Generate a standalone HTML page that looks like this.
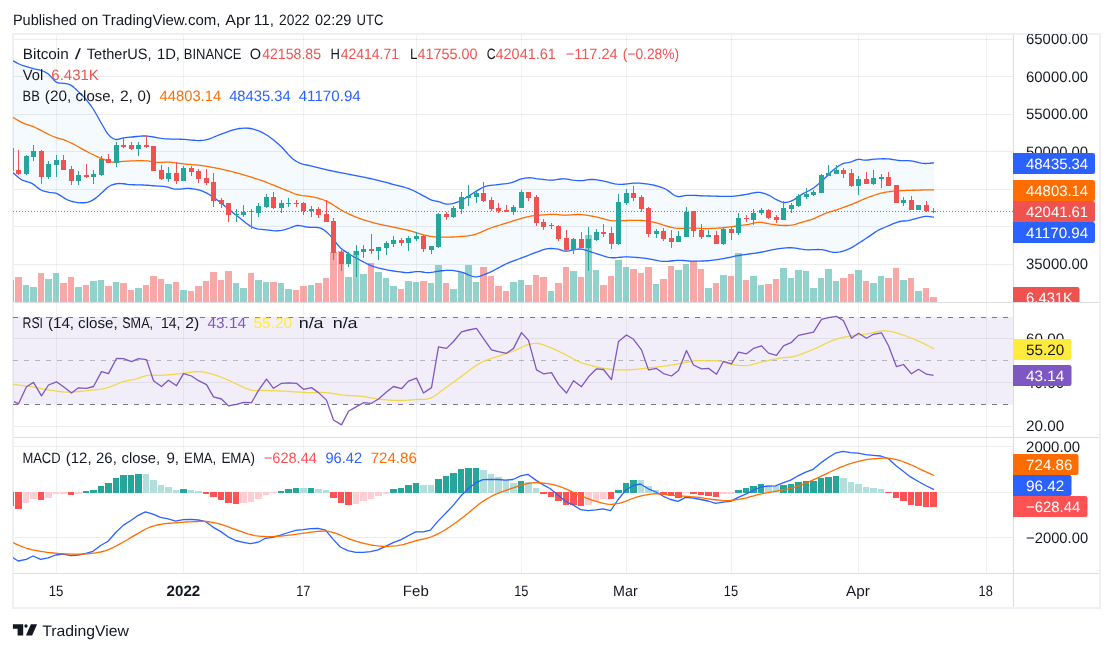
<!DOCTYPE html>
<html><head><meta charset="utf-8"><title>BTCUSDT chart</title>
<style>html,body{margin:0;padding:0;background:#fff}svg{display:block}</style></head>
<body>
<svg width="1113" height="652" viewBox="0 0 1113 652" font-family="Liberation Sans, sans-serif" style="text-rendering:geometricPrecision">
<rect width="1113" height="652" fill="#fff"/>
<rect x="13" y="34" width="1087" height="574" fill="none" stroke="#eef0f5" stroke-width="2"/>
<defs>
<clipPath id="c1"><rect x="13" y="34" width="1000" height="268"/></clipPath>
<clipPath id="c2"><rect x="13" y="303" width="1000" height="134"/></clipPath>
<clipPath id="c3"><rect x="13" y="438" width="1000" height="135"/></clipPath>
<clipPath id="a1"><rect x="1013" y="34" width="86" height="268"/></clipPath>
</defs>
<path d="M56.5,35V573.5M183.5,35V573.5M303.5,35V573.5M416.5,35V573.5M521.5,35V573.5M626.5,35V573.5M731.5,35V573.5M858.5,35V573.5M986.5,35V573.5" stroke="#2a2e39" stroke-opacity="0.065" stroke-width="1" fill="none"/>
<path d="M14,39.5H1013.5M14,76.5H1013.5M14,114.5H1013.5M14,151.5H1013.5M14,189.5H1013.5M14,226.5H1013.5M14,264.5H1013.5M14,338.5H1013.5M14,382.5H1013.5M14,426.5H1013.5M14,446.5H1013.5M14,492.5H1013.5M14,537.5H1013.5" stroke="#2a2e39" stroke-opacity="0.085" stroke-width="1" fill="none"/>
<g clip-path="url(#c1)">
<polygon points="12,60.6 13.5,61.2 16.25,62.59 19,64 21.53,65.02 24.07,65.89 26.6,66.7 29.13,67.46 31.67,68.15 34.2,68.8 36.63,69.31 39.07,69.78 41.5,70.5 43.9,71.48 46.3,72.69 48.7,74.3 51.23,76.89 53.77,79.92 56.3,82.2 58.83,83.04 61.37,83.12 63.9,83.3 66.2,83.7 68.5,84.18 70.8,85.1 73.33,86.87 75.87,89.17 78.4,91.6 80.9,93.95 83.4,96.43 85.9,99.2 88.43,102.33 90.97,105.75 93.5,109.5 96.03,113.71 98.57,118.24 101.1,122.7 103.4,126.77 105.7,130.78 108,134.1 110.53,136.71 113.07,138.5 115.6,139.5 118.13,139.45 120.67,138.63 123.2,137.9 125.47,137.61 127.73,137.4 130,137.2 132.14,136.98 134.29,136.74 136.43,136.5 138.57,136.28 140.71,136.11 142.86,136.01 145,136 147.11,136.1 149.22,136.32 151.33,136.63 153.44,136.99 155.56,137.39 157.67,137.78 159.78,138.15 161.89,138.47 164,138.7 166.09,138.86 168.18,138.97 170.27,139.05 172.36,139.1 174.44,139.14 176.53,139.17 178.62,139.2 180.71,139.24 182.8,139.3 184.96,139.42 187.12,139.6 189.28,139.82 191.44,140.05 193.6,140.26 195.76,140.43 197.92,140.53 200.08,140.52 202.24,140.39 204.4,140.1 206.5,139.64 208.6,139.03 210.7,138.3 212.8,137.49 214.9,136.62 217,135.73 219.1,134.86 221.2,134.04 223.3,133.3 225.33,132.62 227.35,131.9 229.38,131.18 231.4,130.48 233.43,129.84 235.45,129.27 237.47,128.82 239.5,128.5 241.66,128.28 243.82,128.15 245.98,128.13 248.14,128.24 250.3,128.5 252.55,128.93 254.8,129.52 257.05,130.26 259.3,131.14 261.55,132.16 263.8,133.3 265.82,134.46 267.85,135.75 269.88,137.16 271.9,138.68 273.93,140.29 275.95,141.97 277.98,143.71 280,145.5 282.06,147.48 284.11,149.69 286.17,152.01 288.23,154.33 290.29,156.53 292.34,158.49 294.4,160.1 297.1,161.75 299.8,163.1 301.8,163.87 303.8,164.42 305.8,164.85 307.8,165.25 309.8,165.7 311.82,166.21 313.84,166.71 315.86,167.21 317.88,167.7 319.9,168.19 321.92,168.66 323.94,169.14 325.96,169.6 327.98,170.05 330,170.5 332,170.93 334,171.35 336,171.76 338,172.15 340,172.55 342,172.94 344,173.32 346,173.71 348,174.1 350,174.5 352,174.9 354,175.28 356,175.67 358,176.05 360,176.44 362,176.83 364,177.23 366,177.64 368,178.06 370,178.5 372,178.96 374,179.42 376,179.9 378,180.39 380,180.89 382,181.39 384,181.91 386,182.43 388,182.96 390,183.5 392.01,184.03 394.02,184.53 396.03,185.03 398.04,185.52 400.05,186.03 402.05,186.56 404.06,187.13 406.07,187.75 408.08,188.42 410.09,189.17 412.1,190 414.25,191 416.4,192.08 418.55,193.23 420.7,194.4 422.85,195.57 425,196.7 427.23,197.91 429.47,199.12 431.7,200.1 433.83,200.68 435.97,201.06 438.1,201.5 440.12,202.17 442.15,202.97 444.18,203.68 446.2,204.1 448.23,204.16 450.25,203.96 452.27,203.59 454.3,203.1 456.46,202.43 458.62,201.57 460.78,200.57 462.94,199.47 465.1,198.3 467.45,196.9 469.8,195.37 472.15,193.79 474.5,192.3 476.88,190.83 479.25,189.36 481.62,188.01 484,186.9 486.25,186.15 488.5,185.66 490.75,185.34 493,185.11 495.25,184.89 497.5,184.6 499.61,184.31 501.73,184.08 503.84,183.88 505.96,183.66 508.07,183.36 510.19,182.96 512.3,182.4 514.32,181.66 516.35,180.78 518.38,179.92 520.4,179.2 522.67,178.59 524.93,178.11 527.2,177.8 529.36,177.75 531.52,177.91 533.68,178.21 535.84,178.53 538,178.8 540.25,179.04 542.5,179.33 544.75,179.61 547,179.86 549.25,180.03 551.5,180.1 553.75,179.98 556,179.7 558.25,179.34 560.5,179 562.75,178.79 565,178.8 567,179.03 569,179.38 571,179.77 573,180.1 575.55,180.44 578.1,180.7 580.23,180.72 582.36,180.56 584.49,180.28 586.61,179.97 588.74,179.68 590.87,179.5 593,179.5 595.14,179.68 597.28,179.96 599.42,180.31 601.56,180.7 603.7,181.1 605.95,181.58 608.2,182.16 610.45,182.77 612.7,183.35 614.95,183.85 617.2,184.2 619.23,184.35 621.26,184.36 623.29,184.25 625.32,184.06 627.35,183.82 629.38,183.57 631.41,183.34 633.44,183.16 635.47,183.07 637.5,183.1 639.69,183.22 641.88,183.39 644.06,183.59 646.25,183.85 648.44,184.17 650.62,184.54 652.81,184.98 655,185.5 657.38,186.11 659.75,186.79 662.12,187.57 664.5,188.5 666.75,189.75 669,191.37 671.25,193.11 673.5,194.73 675.75,195.98 678,196.6 680.23,196.49 682.47,196.02 684.7,195.6 686.73,195.43 688.76,195.33 690.79,195.31 692.82,195.35 694.85,195.42 696.88,195.52 698.91,195.63 700.94,195.74 702.97,195.84 705,195.9 707.11,195.95 709.23,196.01 711.34,196.08 713.46,196.14 715.57,196.2 717.69,196.26 719.8,196.3 721.88,196.35 723.96,196.4 726.04,196.45 728.12,196.45 730.2,196.4 732.23,196.28 734.25,196.09 736.27,195.86 738.3,195.59 740.33,195.3 742.35,194.99 744.38,194.69 746.4,194.4 748.65,194 750.9,193.48 753.15,192.95 755.4,192.52 757.65,192.3 759.9,192.4 761.92,192.76 763.95,193.3 765.98,193.99 768,194.8 770.38,196.01 772.75,197.48 775.12,198.96 777.5,200.2 779.73,201.19 781.97,202.04 784.2,202.5 786.47,202.42 788.73,201.94 791,201.2 793.16,200.2 795.32,198.86 797.48,197.34 799.64,195.8 801.8,194.4 803.82,193.28 805.83,192.25 807.85,191.25 809.87,190.21 811.88,189.05 813.9,187.7 816.06,186.02 818.22,184.18 820.38,182.22 822.54,180.2 824.7,178.2 827.08,175.92 829.45,173.54 831.83,171.24 834.2,169.2 836.55,167.42 838.9,165.81 841.25,164.44 843.6,163.4 845.73,162.87 847.87,162.58 850,162.2 852.02,161.51 854.05,160.64 856.08,159.85 858.1,159.4 860.33,159.47 862.57,159.85 864.8,160.1 867.17,160.02 869.55,159.76 871.92,159.44 874.3,159.2 876.32,159.06 878.33,158.94 880.35,158.83 882.37,158.77 884.38,158.75 886.4,158.8 888.65,158.97 890.9,159.25 893.15,159.6 895.4,159.96 897.65,160.28 899.9,160.5 902.06,160.6 904.22,160.62 906.38,160.62 908.54,160.67 910.7,160.8 912.83,161.09 914.96,161.53 917.09,162.04 919.21,162.56 921.34,163.02 923.47,163.36 925.6,163.5 927.7,163.44 929.8,163.25 931.9,163.01 934,162.8 934,217.2 931.9,216.94 929.8,216.63 927.7,216.41 925.6,216.4 923.58,216.67 921.55,217.13 919.52,217.67 917.5,218.2 915.12,218.81 912.75,219.47 910.38,220.09 908,220.6 905.98,220.86 903.95,221.01 901.92,221.18 899.9,221.5 897.72,222.07 895.53,222.8 893.35,223.65 891.17,224.59 888.98,225.55 886.8,226.5 884.35,227.52 881.9,228.54 879.45,229.67 877,231 874.87,232.39 872.73,233.9 870.6,235.4 868.44,236.86 866.28,238.3 864.12,239.73 861.96,241.13 859.8,242.5 857.64,243.88 855.48,245.26 853.32,246.6 851.16,247.84 849,248.9 846.75,249.84 844.5,250.67 842.25,251.35 840,251.88 837.75,252.23 835.5,252.4 833.25,252.28 831,251.87 828.75,251.28 826.5,250.65 824.25,250.08 822,249.7 819.98,249.55 817.95,249.51 815.92,249.54 813.9,249.62 811.88,249.71 809.85,249.78 807.82,249.79 805.8,249.7 803.69,249.48 801.57,249.16 799.46,248.79 797.34,248.41 795.23,248.07 793.11,247.81 791,247.7 788.62,247.73 786.25,247.86 783.88,248.06 781.5,248.3 779.34,248.56 777.18,248.89 775.02,249.28 772.86,249.71 770.7,250.17 768.54,250.64 766.38,251.12 764.22,251.58 762.06,252.01 759.9,252.4 757.74,252.75 755.58,253.08 753.42,253.39 751.26,253.69 749.1,253.99 746.94,254.28 744.78,254.59 742.62,254.9 740.46,255.24 738.3,255.6 736.2,255.98 734.1,256.4 732,256.84 729.9,257.29 727.8,257.74 725.7,258.17 723.6,258.59 721.5,258.97 719.4,259.3 717.38,259.59 715.35,259.86 713.33,260.12 711.3,260.35 709.27,260.56 707.25,260.73 705.23,260.88 703.2,261 700.86,261.09 698.52,261.15 696.18,261.16 693.84,261.15 691.5,261.1 689.4,261 687.3,260.84 685.2,260.66 683.1,260.48 681,260.35 678.9,260.3 676.84,260.37 674.79,260.54 672.73,260.77 670.67,261.02 668.61,261.24 666.56,261.38 664.5,261.4 662.4,261.28 660.3,261.04 658.2,260.72 656.1,260.33 654,259.91 651.9,259.48 649.8,259.06 647.7,258.7 645.6,258.4 643.5,258.15 641.4,257.92 639.3,257.7 637.2,257.49 635.1,257.31 633,257.16 630.9,257.04 628.8,256.95 626.7,256.9 624.68,256.94 622.65,257.07 620.62,257.26 618.6,257.47 616.58,257.65 614.55,257.75 612.52,257.75 610.5,257.6 608.48,257.28 606.45,256.82 604.42,256.25 602.4,255.61 600.38,254.94 598.35,254.26 596.32,253.6 594.3,253 592.17,252.34 590.04,251.59 587.91,250.82 585.79,250.11 583.66,249.51 581.53,249.12 579.4,249 577.27,249.18 575.13,249.53 573,249.9 571,250.3 569,250.78 567,251.15 565,251.2 562.73,250.7 560.47,249.87 558.2,249.2 555.85,248.81 553.5,248.57 551.15,248.49 548.8,248.6 546.55,248.93 544.3,249.49 542.05,250.21 539.8,251.03 537.55,251.88 535.3,252.7 533.27,253.43 531.23,254.2 529.2,255 527.17,255.81 525.13,256.61 523.1,257.4 520.93,258.21 518.76,259 516.59,259.77 514.41,260.56 512.24,261.36 510.07,262.2 507.9,263.1 505.83,264.03 503.76,265.05 501.69,266.14 499.62,267.25 497.55,268.39 495.48,269.51 493.41,270.59 491.34,271.62 489.27,272.56 487.2,273.4 484.92,274.31 482.64,275.23 480.36,276.06 478.08,276.66 475.8,276.9 473.57,276.66 471.33,276 469.1,275.09 466.87,274.07 464.63,273.12 462.4,272.4 460.33,271.9 458.27,271.43 456.2,271.02 454.13,270.69 452.07,270.44 450,270.3 447.96,270.29 445.92,270.38 443.88,270.56 441.84,270.77 439.8,271 437.64,271.31 435.48,271.7 433.32,272.1 431.16,272.43 429,272.6 426.84,272.53 424.68,272.29 422.52,271.98 420.36,271.71 418.2,271.6 416.04,271.71 413.88,271.97 411.72,272.27 409.56,272.52 407.4,272.6 405.05,272.48 402.7,272.24 400.35,271.92 398,271.6 395.75,271.3 393.5,270.99 391.25,270.66 389,270.29 386.75,269.87 384.5,269.4 382.25,268.9 380,268.37 377.75,267.8 375.5,267.17 373.25,266.44 371,265.6 368.84,264.67 366.68,263.62 364.52,262.51 362.36,261.36 360.2,260.2 358.04,259.05 355.88,257.89 353.72,256.7 351.56,255.44 349.4,254.1 347.05,252.63 344.7,251.12 342.35,249.43 340,247.4 337.62,244.78 335.25,241.73 332.88,238.64 330.5,235.9 328.23,233.63 325.97,231.55 323.7,229.8 321.68,228.66 319.65,227.93 317.62,227.52 315.6,227.34 313.57,227.3 311.55,227.31 309.52,227.27 307.5,227.1 305.48,226.75 303.47,226.3 301.45,225.87 299.43,225.57 297.42,225.51 295.4,225.8 292.7,226.83 290,228 287.92,228.7 285.84,229.33 283.76,229.86 281.68,230.29 279.6,230.6 277.35,230.77 275.1,230.78 272.85,230.66 270.6,230.44 268.35,230.18 266.1,229.9 263.85,229.66 261.6,229.44 259.35,229.17 257.1,228.77 254.85,228.17 252.6,227.3 250.35,226.09 248.1,224.6 245.85,222.91 243.6,221.11 241.35,219.27 239.1,217.5 236.85,215.75 234.6,213.96 232.35,212.14 230.1,210.31 227.85,208.49 225.6,206.7 223.57,205.07 221.53,203.41 219.5,201.76 217.47,200.15 215.43,198.62 213.4,197.2 211.05,195.67 208.7,194.24 206.35,192.93 204,191.8 201.75,190.9 199.5,190.18 197.25,189.59 195,189.13 192.75,188.78 190.5,188.5 188.37,188.39 186.24,188.47 184.11,188.67 181.99,188.91 179.86,189.11 177.73,189.2 175.6,189.1 173.58,188.78 171.57,188.3 169.55,187.73 167.53,187.17 165.52,186.7 163.5,186.4 159.8,186.2 157.69,186.06 155.57,185.9 153.46,185.73 151.34,185.55 149.23,185.38 147.11,185.23 145,185.1 142.75,185 140.5,184.93 138.25,184.87 136,184.82 133.75,184.77 131.5,184.7 129.47,184.56 127.45,184.31 125.42,184.01 123.4,183.74 121.38,183.54 119.35,183.47 117.33,183.61 115.3,184 113.03,184.64 110.77,185.47 108.5,186.7 106.27,188.5 104.03,190.69 101.8,192.8 99.42,194.9 97.05,196.98 94.67,198.87 92.3,200.4 90.19,201.39 88.07,202.07 85.96,202.51 83.84,202.73 81.73,202.77 79.61,202.68 77.5,202.5 75.34,202.2 73.18,201.75 71.02,201.14 68.86,200.39 66.7,199.5 64.66,198.4 62.62,197.03 60.58,195.61 58.54,194.33 56.5,193.4 54.03,192.86 51.57,192.63 49.1,192.3 47.08,191.89 45.05,191.44 43.02,190.85 41,190 38.83,188.62 36.65,186.88 34.47,185.1 32.3,183.6 30,182.54 27.7,181.84 25.4,181.25 23.1,180.49 20.8,179.3 18.77,177.82 16.75,176.09 14.72,174.27 12.7,172.5" fill="#2196f3" fill-opacity="0.05"/>
<path d="M23,302H29V285H23ZM30,302H37V287H30ZM45,302H52V279H45ZM53,302H59V273H53ZM75,302H82V287H75ZM90,302H97V281H90ZM98,302H104V280H98ZM113,302H119V282H113ZM135,302H142V288H135ZM165,302H172V284H165ZM180,302H187V290H180ZM233,302H239V283H233ZM240,302H247V288H240ZM255,302H262V280H255ZM263,302H269V282H263ZM278,302H284V283H278ZM285,302H292V289H285ZM308,302H314V285H308ZM345,302H352V277H345ZM353,302H359V251H353ZM360,302H367V274H360ZM375,302H382V272H375ZM383,302H389V278H383ZM390,302H397V286H390ZM405,302H412V281H405ZM413,302H419V282H413ZM428,302H434V283H428ZM435,302H442V265H435ZM450,302H457V289H450ZM458,302H464V272H458ZM465,302H472V265H465ZM473,302H479V282H473ZM510,302H517V282H510ZM518,302H524V280H518ZM548,302H554V291H548ZM570,302H577V271H570ZM585,302H592V235H585ZM593,302H599V270H593ZM615,302H622V260H615ZM623,302H629V267H623ZM653,302H659V284H653ZM675,302H682V270H675ZM683,302H689V264H683ZM705,302H712V288H705ZM720,302H727V275H720ZM735,302H742V253H735ZM750,302H757V276H750ZM758,302H764V285H758ZM780,302H787V268H780ZM788,302H794V278H788ZM795,302H802V270H795ZM803,302H809V271H803ZM810,302H817V288H810ZM818,302H824V278H818ZM825,302H832V269H825ZM833,302H839V281H833ZM855,302H862V270H855ZM870,302H877V283H870ZM878,302H884V276H878ZM900,302H907V280H900ZM915,302H922V291H915Z" fill="#26a69a" fill-opacity="0.5"/>
<path d="M8,302H14V280H8ZM15,302H22V277H15ZM38,302H44V273H38ZM60,302H67V283H60ZM68,302H74V277H68ZM83,302H89V285H83ZM105,302H112V286H105ZM120,302H127V283H120ZM128,302H134V290H128ZM143,302H149V285H143ZM150,302H157V276H150ZM158,302H164V279H158ZM173,302H179V282H173ZM188,302H194V291H188ZM195,302H202V286H195ZM203,302H209V281H203ZM210,302H217V272H210ZM218,302H224V280H218ZM225,302H232V271H225ZM248,302H254V273H248ZM270,302H277V282H270ZM293,302H299V290H293ZM300,302H307V286H300ZM315,302H322V283H315ZM323,302H329V278H323ZM330,302H337V252H330ZM338,302H344V251H338ZM368,302H374V263H368ZM398,302H404V289H398ZM420,302H427V281H420ZM443,302H449V283H443ZM480,302H487V267H480ZM488,302H494V276H488ZM495,302H502V286H495ZM503,302H509V291H503ZM525,302H532V285H525ZM533,302H539V275H533ZM540,302H547V277H540ZM555,302H562V283H555ZM563,302H569V267H563ZM578,302H584V277H578ZM600,302H607V285H600ZM608,302H614V276H608ZM630,302H637V269H630ZM638,302H644V273H638ZM645,302H652V267H645ZM660,302H667V279H660ZM668,302H674V266H668ZM690,302H697V261H690ZM698,302H704V269H698ZM713,302H719V283H713ZM728,302H734V276H728ZM743,302H749V280H743ZM765,302H772V284H765ZM773,302H779V279H773ZM840,302H847V278H840ZM848,302H854V274H848ZM863,302H869V281H863ZM885,302H892V278H885ZM893,302H899V268H893ZM908,302H914V278H908ZM923,302H929V288H923ZM930,302H937V297H930Z" fill="#ef5350" fill-opacity="0.5"/>
<polyline points="12,117 13.5,117.8 15.56,118.95 17.62,120.15 19.68,121.33 21.74,122.44 23.8,123.4 25.88,124.16 27.95,124.78 30.03,125.38 32.1,126.1 34.17,126.99 36.23,127.99 38.3,129.07 40.37,130.18 42.43,131.27 44.5,132.3 46.72,133.38 48.94,134.46 51.16,135.52 53.38,136.51 55.6,137.4 58,138.19 60.4,138.84 62.8,139.49 65.2,140.3 67.45,141.23 69.7,142.26 71.95,143.36 74.2,144.5 76.48,145.72 78.76,147.01 81.04,148.34 83.32,149.65 85.6,150.9 87.62,151.96 89.65,153.01 91.67,154.04 93.7,155.04 95.72,156 97.75,156.92 99.77,157.79 101.8,158.6 103.96,159.45 106.12,160.28 108.28,161.05 110.44,161.68 112.6,162.1 114.62,162.25 116.63,162.19 118.65,161.99 120.67,161.72 122.68,161.47 124.7,161.3 126.73,161.19 128.76,161.08 130.79,160.97 132.82,160.87 134.85,160.79 136.88,160.72 138.91,160.69 140.94,160.68 142.97,160.72 145,160.8 147.11,160.97 149.23,161.22 151.34,161.52 153.46,161.83 155.57,162.1 157.69,162.31 159.8,162.4 162.37,162.33 164.93,162.17 167.5,162.1 169.53,162.17 171.55,162.32 173.57,162.54 175.6,162.81 177.62,163.09 179.65,163.39 181.67,163.66 183.7,163.9 185.73,164.1 187.76,164.29 189.79,164.46 191.82,164.63 193.85,164.8 195.88,164.97 197.91,165.17 199.94,165.38 201.97,165.62 204,165.9 206.03,166.21 208.05,166.54 210.07,166.89 212.1,167.27 214.12,167.65 216.15,168.06 218.17,168.47 220.2,168.9 222.36,169.37 224.52,169.85 226.68,170.35 228.84,170.87 231,171.4 233.16,171.95 235.32,172.52 237.48,173.1 239.64,173.69 241.8,174.3 243.88,174.9 245.96,175.52 248.05,176.14 250.13,176.79 252.21,177.44 254.29,178.11 256.37,178.8 258.45,179.5 260.54,180.22 262.62,180.95 264.7,181.7 266.73,182.45 268.76,183.24 270.79,184.05 272.82,184.87 274.85,185.71 276.88,186.55 278.91,187.38 280.94,188.21 282.97,189.02 285,189.8 287.11,190.64 289.23,191.51 291.34,192.4 293.46,193.25 295.57,194.02 297.69,194.69 299.8,195.2 302.37,195.57 304.93,195.8 307.5,196.1 309.6,196.45 311.7,196.82 313.8,197.23 315.9,197.69 318,198.21 320.1,198.81 322.2,199.48 324.3,200.24 326.4,201.1 328.6,202.16 330.8,203.4 333,204.75 335.2,206.18 337.4,207.63 339.6,209.05 341.8,210.39 344,211.6 346.25,212.73 348.5,213.82 350.75,214.86 353,215.85 355.25,216.8 357.5,217.7 359.52,218.46 361.55,219.18 363.57,219.85 365.6,220.49 367.62,221.09 369.65,221.68 371.68,222.24 373.7,222.8 375.86,223.37 378.02,223.89 380.18,224.38 382.34,224.84 384.5,225.28 386.66,225.72 388.82,226.15 390.98,226.58 393.14,227.03 395.3,227.5 397.32,227.95 399.35,228.39 401.38,228.82 403.4,229.27 405.43,229.72 407.45,230.19 409.48,230.68 411.5,231.2 413.75,231.84 416,232.55 418.25,233.28 420.5,233.99 422.75,234.64 425,235.2 427,235.62 429,236 431,236.33 433,236.6 435.2,236.83 437.4,236.97 439.6,237.05 441.8,237.09 444,237.1 446.2,237.1 448.31,237.09 450.43,237.07 452.54,237.02 454.66,236.94 456.77,236.83 458.89,236.68 461,236.5 463.25,236.28 465.5,236.05 467.75,235.78 470,235.45 472.25,235.03 474.5,234.5 476.52,233.89 478.55,233.16 480.57,232.33 482.6,231.44 484.62,230.53 486.65,229.63 488.68,228.77 490.7,228 492.83,227.26 494.96,226.57 497.09,225.9 499.21,225.25 501.34,224.61 503.47,223.96 505.6,223.3 507.62,222.66 509.63,222.01 511.65,221.36 513.67,220.72 515.68,220.1 517.7,219.5 519.86,218.87 522.02,218.24 524.18,217.64 526.34,217.09 528.5,216.6 530.52,216.22 532.55,215.91 534.58,215.66 536.6,215.46 538.62,215.28 540.65,215.12 542.68,214.96 544.7,214.8 546.97,214.6 549.23,214.41 551.5,214.3 553.75,214.32 556,214.47 558.25,214.69 560.5,214.92 562.75,215.11 565,215.2 567.06,215.17 569.11,215.05 571.17,214.89 573.23,214.71 575.29,214.56 577.34,214.48 579.4,214.5 581.6,214.63 583.8,214.84 586,215.12 588.2,215.46 590.4,215.83 592.6,216.24 594.8,216.67 597,217.1 599.11,217.57 601.23,218.12 603.34,218.7 605.46,219.29 607.57,219.83 609.69,220.28 611.8,220.6 613.93,220.78 616.06,220.83 618.19,220.81 620.31,220.73 622.44,220.63 624.57,220.54 626.7,220.5 628.81,220.47 630.93,220.42 633.04,220.37 635.16,220.33 637.27,220.32 639.39,220.37 641.5,220.5 643.63,220.7 645.76,220.95 647.89,221.24 650.01,221.59 652.14,221.98 654.27,222.42 656.4,222.9 658.65,223.51 660.9,224.22 663.15,224.99 665.4,225.74 667.65,226.44 669.9,227 671.92,227.41 673.95,227.77 675.98,228.07 678,228.3 680.25,228.42 682.5,228.4 684.75,228.29 687,228.15 689.25,228.03 691.5,228 693.75,228.06 696,228.17 698.25,228.31 700.5,228.45 702.75,228.55 705,228.6 707.11,228.59 709.23,228.56 711.34,228.5 713.46,228.42 715.57,228.3 717.69,228.17 719.8,228 721.88,227.8 723.96,227.57 726.04,227.32 728.12,227.06 730.2,226.8 732.4,226.54 734.6,226.27 736.8,226.01 739,225.74 741.2,225.46 743.4,225.16 745.6,224.84 747.8,224.5 749.82,224.11 751.83,223.64 753.85,223.15 755.87,222.72 757.88,222.41 759.9,222.3 762.06,222.44 764.22,222.79 766.38,223.25 768.54,223.72 770.7,224.1 772.95,224.42 775.2,224.73 777.45,225.02 779.7,225.26 781.95,225.43 784.2,225.5 786.47,225.49 788.73,225.41 791,225.2 793.16,224.82 795.32,224.27 797.48,223.62 799.64,222.95 801.8,222.3 803.96,221.7 806.12,221.11 808.28,220.5 810.44,219.84 812.6,219.1 814.62,218.3 816.63,217.39 818.65,216.43 820.67,215.47 822.68,214.54 824.7,213.7 826.95,212.87 829.2,212.13 831.45,211.43 833.7,210.75 835.95,210.05 838.2,209.3 840.45,208.51 842.7,207.71 844.95,206.89 847.2,206.05 849.45,205.18 851.7,204.3 854.06,203.33 856.42,202.31 858.78,201.29 861.14,200.27 863.5,199.3 865.75,198.4 868,197.5 870.25,196.62 872.5,195.78 874.75,195 877,194.3 879.16,193.69 881.32,193.13 883.48,192.63 885.64,192.18 887.8,191.8 889.82,191.52 891.83,191.31 893.85,191.15 895.87,191.03 897.88,190.92 899.9,190.8 902.1,190.67 904.3,190.55 906.5,190.45 908.7,190.37 910.9,190.29 913.1,190.23 915.3,190.16 917.5,190.1 919.56,190.05 921.62,190 923.69,189.96 925.75,189.93 927.81,189.9 929.88,189.87 931.94,189.84 934,189.8" fill="none" stroke="#ff6d00" stroke-width="1.3" stroke-linejoin="round"/>
<polyline points="12,60.6 13.5,61.2 16.25,62.59 19,64 21.53,65.02 24.07,65.89 26.6,66.7 29.13,67.46 31.67,68.15 34.2,68.8 36.63,69.31 39.07,69.78 41.5,70.5 43.9,71.48 46.3,72.69 48.7,74.3 51.23,76.89 53.77,79.92 56.3,82.2 58.83,83.04 61.37,83.12 63.9,83.3 66.2,83.7 68.5,84.18 70.8,85.1 73.33,86.87 75.87,89.17 78.4,91.6 80.9,93.95 83.4,96.43 85.9,99.2 88.43,102.33 90.97,105.75 93.5,109.5 96.03,113.71 98.57,118.24 101.1,122.7 103.4,126.77 105.7,130.78 108,134.1 110.53,136.71 113.07,138.5 115.6,139.5 118.13,139.45 120.67,138.63 123.2,137.9 125.47,137.61 127.73,137.4 130,137.2 132.14,136.98 134.29,136.74 136.43,136.5 138.57,136.28 140.71,136.11 142.86,136.01 145,136 147.11,136.1 149.22,136.32 151.33,136.63 153.44,136.99 155.56,137.39 157.67,137.78 159.78,138.15 161.89,138.47 164,138.7 166.09,138.86 168.18,138.97 170.27,139.05 172.36,139.1 174.44,139.14 176.53,139.17 178.62,139.2 180.71,139.24 182.8,139.3 184.96,139.42 187.12,139.6 189.28,139.82 191.44,140.05 193.6,140.26 195.76,140.43 197.92,140.53 200.08,140.52 202.24,140.39 204.4,140.1 206.5,139.64 208.6,139.03 210.7,138.3 212.8,137.49 214.9,136.62 217,135.73 219.1,134.86 221.2,134.04 223.3,133.3 225.33,132.62 227.35,131.9 229.38,131.18 231.4,130.48 233.43,129.84 235.45,129.27 237.47,128.82 239.5,128.5 241.66,128.28 243.82,128.15 245.98,128.13 248.14,128.24 250.3,128.5 252.55,128.93 254.8,129.52 257.05,130.26 259.3,131.14 261.55,132.16 263.8,133.3 265.82,134.46 267.85,135.75 269.88,137.16 271.9,138.68 273.93,140.29 275.95,141.97 277.98,143.71 280,145.5 282.06,147.48 284.11,149.69 286.17,152.01 288.23,154.33 290.29,156.53 292.34,158.49 294.4,160.1 297.1,161.75 299.8,163.1 301.8,163.87 303.8,164.42 305.8,164.85 307.8,165.25 309.8,165.7 311.82,166.21 313.84,166.71 315.86,167.21 317.88,167.7 319.9,168.19 321.92,168.66 323.94,169.14 325.96,169.6 327.98,170.05 330,170.5 332,170.93 334,171.35 336,171.76 338,172.15 340,172.55 342,172.94 344,173.32 346,173.71 348,174.1 350,174.5 352,174.9 354,175.28 356,175.67 358,176.05 360,176.44 362,176.83 364,177.23 366,177.64 368,178.06 370,178.5 372,178.96 374,179.42 376,179.9 378,180.39 380,180.89 382,181.39 384,181.91 386,182.43 388,182.96 390,183.5 392.01,184.03 394.02,184.53 396.03,185.03 398.04,185.52 400.05,186.03 402.05,186.56 404.06,187.13 406.07,187.75 408.08,188.42 410.09,189.17 412.1,190 414.25,191 416.4,192.08 418.55,193.23 420.7,194.4 422.85,195.57 425,196.7 427.23,197.91 429.47,199.12 431.7,200.1 433.83,200.68 435.97,201.06 438.1,201.5 440.12,202.17 442.15,202.97 444.18,203.68 446.2,204.1 448.23,204.16 450.25,203.96 452.27,203.59 454.3,203.1 456.46,202.43 458.62,201.57 460.78,200.57 462.94,199.47 465.1,198.3 467.45,196.9 469.8,195.37 472.15,193.79 474.5,192.3 476.88,190.83 479.25,189.36 481.62,188.01 484,186.9 486.25,186.15 488.5,185.66 490.75,185.34 493,185.11 495.25,184.89 497.5,184.6 499.61,184.31 501.73,184.08 503.84,183.88 505.96,183.66 508.07,183.36 510.19,182.96 512.3,182.4 514.32,181.66 516.35,180.78 518.38,179.92 520.4,179.2 522.67,178.59 524.93,178.11 527.2,177.8 529.36,177.75 531.52,177.91 533.68,178.21 535.84,178.53 538,178.8 540.25,179.04 542.5,179.33 544.75,179.61 547,179.86 549.25,180.03 551.5,180.1 553.75,179.98 556,179.7 558.25,179.34 560.5,179 562.75,178.79 565,178.8 567,179.03 569,179.38 571,179.77 573,180.1 575.55,180.44 578.1,180.7 580.23,180.72 582.36,180.56 584.49,180.28 586.61,179.97 588.74,179.68 590.87,179.5 593,179.5 595.14,179.68 597.28,179.96 599.42,180.31 601.56,180.7 603.7,181.1 605.95,181.58 608.2,182.16 610.45,182.77 612.7,183.35 614.95,183.85 617.2,184.2 619.23,184.35 621.26,184.36 623.29,184.25 625.32,184.06 627.35,183.82 629.38,183.57 631.41,183.34 633.44,183.16 635.47,183.07 637.5,183.1 639.69,183.22 641.88,183.39 644.06,183.59 646.25,183.85 648.44,184.17 650.62,184.54 652.81,184.98 655,185.5 657.38,186.11 659.75,186.79 662.12,187.57 664.5,188.5 666.75,189.75 669,191.37 671.25,193.11 673.5,194.73 675.75,195.98 678,196.6 680.23,196.49 682.47,196.02 684.7,195.6 686.73,195.43 688.76,195.33 690.79,195.31 692.82,195.35 694.85,195.42 696.88,195.52 698.91,195.63 700.94,195.74 702.97,195.84 705,195.9 707.11,195.95 709.23,196.01 711.34,196.08 713.46,196.14 715.57,196.2 717.69,196.26 719.8,196.3 721.88,196.35 723.96,196.4 726.04,196.45 728.12,196.45 730.2,196.4 732.23,196.28 734.25,196.09 736.27,195.86 738.3,195.59 740.33,195.3 742.35,194.99 744.38,194.69 746.4,194.4 748.65,194 750.9,193.48 753.15,192.95 755.4,192.52 757.65,192.3 759.9,192.4 761.92,192.76 763.95,193.3 765.98,193.99 768,194.8 770.38,196.01 772.75,197.48 775.12,198.96 777.5,200.2 779.73,201.19 781.97,202.04 784.2,202.5 786.47,202.42 788.73,201.94 791,201.2 793.16,200.2 795.32,198.86 797.48,197.34 799.64,195.8 801.8,194.4 803.82,193.28 805.83,192.25 807.85,191.25 809.87,190.21 811.88,189.05 813.9,187.7 816.06,186.02 818.22,184.18 820.38,182.22 822.54,180.2 824.7,178.2 827.08,175.92 829.45,173.54 831.83,171.24 834.2,169.2 836.55,167.42 838.9,165.81 841.25,164.44 843.6,163.4 845.73,162.87 847.87,162.58 850,162.2 852.02,161.51 854.05,160.64 856.08,159.85 858.1,159.4 860.33,159.47 862.57,159.85 864.8,160.1 867.17,160.02 869.55,159.76 871.92,159.44 874.3,159.2 876.32,159.06 878.33,158.94 880.35,158.83 882.37,158.77 884.38,158.75 886.4,158.8 888.65,158.97 890.9,159.25 893.15,159.6 895.4,159.96 897.65,160.28 899.9,160.5 902.06,160.6 904.22,160.62 906.38,160.62 908.54,160.67 910.7,160.8 912.83,161.09 914.96,161.53 917.09,162.04 919.21,162.56 921.34,163.02 923.47,163.36 925.6,163.5 927.7,163.44 929.8,163.25 931.9,163.01 934,162.8" fill="none" stroke="#2962ff" stroke-width="1.3" stroke-linejoin="round"/>
<polyline points="12.7,172.5 14.72,174.27 16.75,176.09 18.77,177.82 20.8,179.3 23.1,180.49 25.4,181.25 27.7,181.84 30,182.54 32.3,183.6 34.47,185.1 36.65,186.88 38.83,188.62 41,190 43.02,190.85 45.05,191.44 47.08,191.89 49.1,192.3 51.57,192.63 54.03,192.86 56.5,193.4 58.54,194.33 60.58,195.61 62.62,197.03 64.66,198.4 66.7,199.5 68.86,200.39 71.02,201.14 73.18,201.75 75.34,202.2 77.5,202.5 79.61,202.68 81.73,202.77 83.84,202.73 85.96,202.51 88.07,202.07 90.19,201.39 92.3,200.4 94.67,198.87 97.05,196.98 99.42,194.9 101.8,192.8 104.03,190.69 106.27,188.5 108.5,186.7 110.77,185.47 113.03,184.64 115.3,184 117.33,183.61 119.35,183.47 121.38,183.54 123.4,183.74 125.42,184.01 127.45,184.31 129.47,184.56 131.5,184.7 133.75,184.77 136,184.82 138.25,184.87 140.5,184.93 142.75,185 145,185.1 147.11,185.23 149.23,185.38 151.34,185.55 153.46,185.73 155.57,185.9 157.69,186.06 159.8,186.2 163.5,186.4 165.52,186.7 167.53,187.17 169.55,187.73 171.57,188.3 173.58,188.78 175.6,189.1 177.73,189.2 179.86,189.11 181.99,188.91 184.11,188.67 186.24,188.47 188.37,188.39 190.5,188.5 192.75,188.78 195,189.13 197.25,189.59 199.5,190.18 201.75,190.9 204,191.8 206.35,192.93 208.7,194.24 211.05,195.67 213.4,197.2 215.43,198.62 217.47,200.15 219.5,201.76 221.53,203.41 223.57,205.07 225.6,206.7 227.85,208.49 230.1,210.31 232.35,212.14 234.6,213.96 236.85,215.75 239.1,217.5 241.35,219.27 243.6,221.11 245.85,222.91 248.1,224.6 250.35,226.09 252.6,227.3 254.85,228.17 257.1,228.77 259.35,229.17 261.6,229.44 263.85,229.66 266.1,229.9 268.35,230.18 270.6,230.44 272.85,230.66 275.1,230.78 277.35,230.77 279.6,230.6 281.68,230.29 283.76,229.86 285.84,229.33 287.92,228.7 290,228 292.7,226.83 295.4,225.8 297.42,225.51 299.43,225.57 301.45,225.87 303.47,226.3 305.48,226.75 307.5,227.1 309.52,227.27 311.55,227.31 313.57,227.3 315.6,227.34 317.62,227.52 319.65,227.93 321.68,228.66 323.7,229.8 325.97,231.55 328.23,233.63 330.5,235.9 332.88,238.64 335.25,241.73 337.62,244.78 340,247.4 342.35,249.43 344.7,251.12 347.05,252.63 349.4,254.1 351.56,255.44 353.72,256.7 355.88,257.89 358.04,259.05 360.2,260.2 362.36,261.36 364.52,262.51 366.68,263.62 368.84,264.67 371,265.6 373.25,266.44 375.5,267.17 377.75,267.8 380,268.37 382.25,268.9 384.5,269.4 386.75,269.87 389,270.29 391.25,270.66 393.5,270.99 395.75,271.3 398,271.6 400.35,271.92 402.7,272.24 405.05,272.48 407.4,272.6 409.56,272.52 411.72,272.27 413.88,271.97 416.04,271.71 418.2,271.6 420.36,271.71 422.52,271.98 424.68,272.29 426.84,272.53 429,272.6 431.16,272.43 433.32,272.1 435.48,271.7 437.64,271.31 439.8,271 441.84,270.77 443.88,270.56 445.92,270.38 447.96,270.29 450,270.3 452.07,270.44 454.13,270.69 456.2,271.02 458.27,271.43 460.33,271.9 462.4,272.4 464.63,273.12 466.87,274.07 469.1,275.09 471.33,276 473.57,276.66 475.8,276.9 478.08,276.66 480.36,276.06 482.64,275.23 484.92,274.31 487.2,273.4 489.27,272.56 491.34,271.62 493.41,270.59 495.48,269.51 497.55,268.39 499.62,267.25 501.69,266.14 503.76,265.05 505.83,264.03 507.9,263.1 510.07,262.2 512.24,261.36 514.41,260.56 516.59,259.77 518.76,259 520.93,258.21 523.1,257.4 525.13,256.61 527.17,255.81 529.2,255 531.23,254.2 533.27,253.43 535.3,252.7 537.55,251.88 539.8,251.03 542.05,250.21 544.3,249.49 546.55,248.93 548.8,248.6 551.15,248.49 553.5,248.57 555.85,248.81 558.2,249.2 560.47,249.87 562.73,250.7 565,251.2 567,251.15 569,250.78 571,250.3 573,249.9 575.13,249.53 577.27,249.18 579.4,249 581.53,249.12 583.66,249.51 585.79,250.11 587.91,250.82 590.04,251.59 592.17,252.34 594.3,253 596.32,253.6 598.35,254.26 600.38,254.94 602.4,255.61 604.42,256.25 606.45,256.82 608.48,257.28 610.5,257.6 612.52,257.75 614.55,257.75 616.58,257.65 618.6,257.47 620.62,257.26 622.65,257.07 624.68,256.94 626.7,256.9 628.8,256.95 630.9,257.04 633,257.16 635.1,257.31 637.2,257.49 639.3,257.7 641.4,257.92 643.5,258.15 645.6,258.4 647.7,258.7 649.8,259.06 651.9,259.48 654,259.91 656.1,260.33 658.2,260.72 660.3,261.04 662.4,261.28 664.5,261.4 666.56,261.38 668.61,261.24 670.67,261.02 672.73,260.77 674.79,260.54 676.84,260.37 678.9,260.3 681,260.35 683.1,260.48 685.2,260.66 687.3,260.84 689.4,261 691.5,261.1 693.84,261.15 696.18,261.16 698.52,261.15 700.86,261.09 703.2,261 705.23,260.88 707.25,260.73 709.27,260.56 711.3,260.35 713.33,260.12 715.35,259.86 717.38,259.59 719.4,259.3 721.5,258.97 723.6,258.59 725.7,258.17 727.8,257.74 729.9,257.29 732,256.84 734.1,256.4 736.2,255.98 738.3,255.6 740.46,255.24 742.62,254.9 744.78,254.59 746.94,254.28 749.1,253.99 751.26,253.69 753.42,253.39 755.58,253.08 757.74,252.75 759.9,252.4 762.06,252.01 764.22,251.58 766.38,251.12 768.54,250.64 770.7,250.17 772.86,249.71 775.02,249.28 777.18,248.89 779.34,248.56 781.5,248.3 783.88,248.06 786.25,247.86 788.62,247.73 791,247.7 793.11,247.81 795.23,248.07 797.34,248.41 799.46,248.79 801.57,249.16 803.69,249.48 805.8,249.7 807.82,249.79 809.85,249.78 811.88,249.71 813.9,249.62 815.92,249.54 817.95,249.51 819.98,249.55 822,249.7 824.25,250.08 826.5,250.65 828.75,251.28 831,251.87 833.25,252.28 835.5,252.4 837.75,252.23 840,251.88 842.25,251.35 844.5,250.67 846.75,249.84 849,248.9 851.16,247.84 853.32,246.6 855.48,245.26 857.64,243.88 859.8,242.5 861.96,241.13 864.12,239.73 866.28,238.3 868.44,236.86 870.6,235.4 872.73,233.9 874.87,232.39 877,231 879.45,229.67 881.9,228.54 884.35,227.52 886.8,226.5 888.98,225.55 891.17,224.59 893.35,223.65 895.53,222.8 897.72,222.07 899.9,221.5 901.92,221.18 903.95,221.01 905.98,220.86 908,220.6 910.38,220.09 912.75,219.47 915.12,218.81 917.5,218.2 919.52,217.67 921.55,217.13 923.58,216.67 925.6,216.4 927.7,216.41 929.8,216.63 931.9,216.94 934,217.2" fill="none" stroke="#2962ff" stroke-width="1.3" stroke-linejoin="round"/>
<path d="M13,211.5H1013.5" stroke="#ef5350" stroke-width="1" stroke-dasharray="1,2" fill="none"/>
<path d="M26.5,155V175M33.5,145V161M48.5,161V179M56.5,155V177M78.5,171V185M93.5,170V184M101.5,156V176M116.5,142V167M138.5,142V156M168.5,167V182M183.5,166V181M236.5,209V222M243.5,205V217M258.5,203V217M266.5,194V208M281.5,200V213M288.5,198V207M311.5,206V217M348.5,252V267M356.5,245V277M363.5,245V258M378.5,247V260M386.5,241V255M393.5,236V247M408.5,236V251M416.5,232V241M431.5,246V254M438.5,213V248M453.5,206V218M461.5,192V214M468.5,185V206M476.5,190V203M513.5,205V215M521.5,190V208M551.5,223V229M573.5,238V254M588.5,227V271M596.5,229V241M618.5,194V245M626.5,189V205M656.5,229V238M678.5,231V242M686.5,207V237M708.5,230V237M723.5,227V245M738.5,213V235M753.5,209V225M761.5,208V215M783.5,201V220M791.5,203V213M798.5,194V207M806.5,188V199M813.5,190V196M821.5,174V193M828.5,165V176M836.5,165V174M858.5,176V195M873.5,170V185M881.5,174V188M903.5,197V206M918.5,205V210" stroke="#26a69a" stroke-width="1" fill="none"/>
<path d="M11.5,148V171M18.5,150V175M41.5,150V184M63.5,155V170M71.5,166V185M86.5,164V178M108.5,154V163M123.5,138V148M131.5,142V150M146.5,135V148M153.5,146V171M161.5,165V180M176.5,162V184M191.5,166V176M198.5,169V183M206.5,169V185M213.5,173V207M221.5,198V208M228.5,203V222M251.5,209V229M273.5,192V209M296.5,200V207M303.5,202V215M318.5,207V218M326.5,200V222M333.5,218V260M341.5,250V271M371.5,234V254M401.5,238V246M423.5,235V252M446.5,212V220M483.5,182V202M491.5,197V211M498.5,203V213M506.5,205V212M528.5,192V201M536.5,195V226M543.5,219V230M558.5,225V241M566.5,230V251M581.5,232V248M603.5,224V237M611.5,227V249M633.5,186V201M641.5,195V212M648.5,207V237M663.5,228V241M671.5,230V248M693.5,211V237M701.5,224V239M716.5,231V244M731.5,227V240M746.5,215V222M768.5,209V219M776.5,215V223M843.5,168V178M851.5,169V187M866.5,172V184M888.5,172V186M896.5,185V203M911.5,196V210M926.5,201V212M933.5,208V213" stroke="#ef5350" stroke-width="1" fill="none"/>
<path d="M24,156H29V174H24ZM31,151H36V157H31ZM46,164H51V177H46ZM54,160H59V165H54ZM76,175H81V181H76ZM91,174H96V177H91ZM99,159H104V175H99ZM114,145H119V163H114ZM136,145H141V149H136ZM166,173H171V179H166ZM181,168H186V181H181ZM234,214H239V215H234ZM241,212H246V215H241ZM256,206H261V213H256ZM264,197H269V207H264ZM279,203H284V208H279ZM286,203H291V204H286ZM309,209H314V211H309ZM346,254H351V264H346ZM354,251H359V255H354ZM361,249H366V252H361ZM376,247H381V251H376ZM384,243H389V248H384ZM391,240H396V244H391ZM406,238H411V243H406ZM414,236H419V239H414ZM429,246H434V250H429ZM436,214H441V247H436ZM451,208H456V217H451ZM459,197H464V209H459ZM466,196H471V198H466ZM474,193H479V197H474ZM511,207H516V212H511ZM519,192H524V208H519ZM549,225H554V226H549ZM571,239H576V250H571ZM586,239H591V248H586ZM594,232H599V240H594ZM616,202H621V244H616ZM624,193H629V203H624ZM654,231H659V234H654ZM676,236H681V242H676ZM684,212H689V237H684ZM706,235H711V237H706ZM721,229H726V244H721ZM736,218H741V233H736ZM751,213H756V220H751ZM759,210H764V213H759ZM781,208H786V220H781ZM789,205H794V209H789ZM796,196H801V206H796ZM804,194H809V197H804ZM811,192H816V195H811ZM819,175H824V193H819ZM826,173H831V176H826ZM834,170H839V174H834ZM856,179H861V186H856ZM871,178H876V184H871ZM879,177H884V179H879ZM901,200H906V203H901ZM916,205H921V210H916Z" fill="#26a69a"/>
<path d="M9,148H14V171H9ZM16,170H21V174H16ZM39,151H44V177H39ZM61,160H66V170H61ZM69,169H74V181H69ZM84,175H89V177H84ZM106,159H111V163H106ZM121,145H126V147H121ZM129,145H134V149H129ZM144,145H149V147H144ZM151,146H156V171H151ZM159,170H164V179H159ZM174,173H179V181H174ZM189,168H194V172H189ZM196,171H201V179H196ZM204,178H209V183H204ZM211,182H216V201H211ZM219,200H224V204H219ZM226,203H231V215H226ZM249,211H254V212H249ZM271,197H276V208H271ZM294,203H299V204H294ZM301,203H306V211H301ZM316,209H321V215H316ZM324,214H329V222H324ZM331,221H336V253H331ZM339,252H344V264H339ZM369,249H374V251H369ZM399,240H404V243H399ZM421,236H426V249H421ZM444,214H449V217H444ZM481,193H486V201H481ZM489,200H494V209H489ZM496,208H501V211H496ZM504,210H509V212H504ZM526,192H531V198H526ZM534,197H539V223H534ZM541,222H546V227H541ZM556,226H561V239H556ZM564,238H569V250H564ZM579,239H584V248H579ZM601,232H606V234H601ZM609,233H614V244H609ZM631,193H636V198H631ZM639,197H644V209H639ZM646,208H651V234H646ZM661,231H666V239H661ZM669,238H674V242H669ZM691,211H696V231H691ZM699,230H704V237H699ZM714,235H719V244H714ZM729,229H734V233H729ZM744,218H749V219H744ZM766,210H771V218H766ZM774,217H779V220H774ZM841,170H846V174H841ZM849,173H854V186H849ZM864,179H869V184H864ZM886,177H891V186H886ZM894,185H899V203H894ZM909,200H914V210H909ZM924,205H929V211H924ZM931,211H936V212H931Z" fill="#ef5350"/>
</g>
<g clip-path="url(#c2)">
<rect x="13" y="317" width="1000.5" height="87.5" fill="#7e57c2" fill-opacity="0.1"/>
<path d="M13,317.5H1013.5M13,404.5H1013.5" stroke="#787b86" stroke-width="1" stroke-dasharray="5,6" fill="none"/>
<path d="M13,360.5H1013.5" stroke="#787b86" stroke-opacity="0.5" stroke-width="1" stroke-dasharray="5,6" fill="none"/>
<polyline points="12.5,384.4 14.62,384.65 16.74,384.88 18.87,385.11 20.99,385.34 23.11,385.58 25.23,385.83 27.36,386.09 29.48,386.38 31.6,386.7 33.75,387.07 35.9,387.47 38.05,387.91 40.2,388.36 42.35,388.81 44.5,389.24 46.65,389.64 48.8,390 50.96,390.33 53.11,390.65 55.27,390.97 57.42,391.26 59.58,391.52 61.73,391.74 63.89,391.92 66.04,392.04 68.2,392.1 70.36,392.09 72.53,392.01 74.69,391.88 76.85,391.7 79.01,391.49 81.17,391.26 83.34,391.03 85.5,390.8 87.65,390.59 89.8,390.39 91.95,390.19 94.1,389.97 96.25,389.74 98.4,389.47 100.55,389.15 102.7,388.78 104.85,388.33 107,387.8 109.16,387.15 111.33,386.38 113.49,385.53 115.65,384.63 117.81,383.73 119.97,382.87 122.14,382.08 124.3,381.4 126.45,380.86 128.6,380.41 130.75,380.01 132.9,379.61 135.05,379.15 137.2,378.6 139.35,377.89 141.5,377.08 143.65,376.31 145.8,375.7 147.96,375.34 150.11,375.17 152.27,375.15 154.43,375.21 156.59,375.29 158.74,375.34 160.9,375.3 163.06,375.19 165.21,375.06 167.37,374.93 169.53,374.77 171.69,374.6 173.84,374.41 176,374.2 178.17,373.95 180.33,373.66 182.5,373.35 184.67,373.04 186.83,372.75 189,372.5 191.16,372.24 193.32,371.97 195.48,371.73 197.64,371.58 199.8,371.6 201.94,371.79 204.08,372.12 206.22,372.55 208.36,373.06 210.5,373.6 212.66,374.2 214.81,374.87 216.97,375.61 219.13,376.41 221.29,377.25 223.44,378.11 225.6,379 227.77,379.94 229.93,380.93 232.1,381.97 234.27,383.01 236.43,384.03 238.6,385 240.63,385.92 242.67,386.87 244.7,387.8 246.73,388.67 248.77,389.42 250.8,390 252.96,390.39 255.11,390.58 257.27,390.61 259.43,390.55 261.59,390.46 263.74,390.39 265.9,390.4 268.05,390.47 270.2,390.55 272.35,390.63 274.5,390.72 276.65,390.81 278.8,390.9 280.95,391 283.1,391.1 285.26,391.21 287.42,391.34 289.58,391.48 291.73,391.63 293.89,391.78 296.05,391.93 298.21,392.08 300.37,392.21 302.52,392.34 304.68,392.45 306.84,392.54 309,392.6 311.16,392.62 313.32,392.59 315.49,392.54 317.65,392.49 319.81,392.44 321.98,392.43 324.14,392.48 326.3,392.6 328.45,392.81 330.6,393.11 332.75,393.46 334.9,393.84 337.05,394.23 339.2,394.6 341.35,394.93 343.5,395.2 345.66,395.39 347.82,395.52 349.99,395.61 352.15,395.69 354.31,395.76 356.48,395.86 358.64,396 360.8,396.2 362.95,396.47 365.1,396.81 367.25,397.18 369.4,397.58 371.55,397.98 373.7,398.36 375.85,398.71 378,399 380.16,399.25 382.32,399.49 384.48,399.71 386.64,399.91 388.8,400.08 390.96,400.23 393.12,400.35 395.28,400.43 397.44,400.48 399.6,400.5 401.75,400.47 403.9,400.4 406.05,400.29 408.2,400.15 410.35,400 412.5,399.83 414.65,399.66 416.8,399.5 418.97,399.42 421.13,399.42 423.3,399.41 425.47,399.3 427.63,398.99 429.8,398.4 431.96,397.46 434.11,396.23 436.27,394.77 438.43,393.18 440.59,391.51 442.74,389.86 444.9,388.3 447.06,386.8 449.21,385.28 451.37,383.75 453.53,382.21 455.69,380.65 457.84,379.08 460,377.5 462.15,375.88 464.3,374.22 466.45,372.55 468.6,370.9 470.75,369.3 472.9,367.8 474.9,366.47 476.9,365.17 478.9,363.94 480.9,362.77 482.9,361.7 485.06,360.69 487.21,359.81 489.37,359.05 491.53,358.35 493.69,357.69 495.84,357.02 498,356.3 500.16,355.57 502.31,354.86 504.47,354.17 506.63,353.47 508.79,352.75 510.94,352 513.1,351.2 515.26,350.3 517.41,349.3 519.57,348.26 521.73,347.22 523.89,346.24 526.04,345.39 528.2,344.7 530.37,344.13 532.53,343.67 534.7,343.4 536.86,343.42 539.01,343.72 541.17,344.23 543.33,344.9 545.49,345.67 547.64,346.49 549.8,347.3 551.96,348.14 554.11,349.08 556.27,350.1 558.43,351.16 560.59,352.25 562.74,353.34 564.9,354.4 567.05,355.48 569.2,356.62 571.35,357.79 573.5,358.96 575.65,360.09 577.8,361.17 579.95,362.15 582.1,363 584.26,363.73 586.42,364.37 588.58,364.94 590.74,365.48 592.9,366 595.06,366.51 597.21,367 599.37,367.47 601.52,367.9 603.68,368.3 605.83,368.67 607.99,368.99 610.14,369.27 612.3,369.5 614.46,369.68 616.62,369.8 618.78,369.88 620.94,369.92 623.1,369.92 625.26,369.88 627.42,369.82 629.58,369.73 631.74,369.62 633.9,369.5 636.06,369.35 638.21,369.16 640.37,368.93 642.52,368.68 644.68,368.41 646.83,368.13 648.99,367.85 651.14,367.57 653.3,367.3 655.46,367.04 657.62,366.79 659.78,366.55 661.94,366.3 664.1,366.04 666.26,365.78 668.42,365.49 670.58,365.19 672.74,364.86 674.9,364.5 677.04,364.1 679.18,363.67 681.32,363.23 683.46,362.8 685.6,362.4 687.76,362.01 689.92,361.61 692.08,361.24 694.24,360.93 696.4,360.7 698.67,360.59 700.93,360.61 703.2,360.7 705.47,360.82 707.73,360.9 710,360.9 712.55,360.77 715.1,360.7 717.25,360.86 719.4,361.23 721.55,361.74 723.7,362.34 725.85,362.97 728,363.58 730.15,364.11 732.3,364.5 734.47,364.81 736.63,365.1 738.8,365.35 740.97,365.53 743.13,365.62 745.3,365.6 747.46,365.43 749.61,365.11 751.77,364.67 753.92,364.14 756.08,363.56 758.23,362.95 760.39,362.35 762.54,361.79 764.7,361.3 766.86,360.85 769.01,360.38 771.17,359.92 773.32,359.46 775.48,359.02 777.63,358.6 779.79,358.22 781.94,357.88 784.1,357.6 786.27,357.4 788.43,357.24 790.6,357 792.75,356.62 794.9,356.12 797.05,355.52 799.2,354.84 801.35,354.09 803.5,353.29 805.65,352.45 807.8,351.6 809.95,350.74 812.1,349.9 814.25,349.02 816.41,348.06 818.56,347.04 820.72,345.99 822.87,344.92 825.03,343.85 827.18,342.8 829.34,341.81 831.49,340.88 833.65,340.03 835.8,339.3 837.96,338.67 840.11,338.1 842.27,337.59 844.43,337.12 846.59,336.69 848.74,336.29 850.9,335.9 853.06,335.55 855.23,335.26 857.39,335.01 859.55,334.78 861.71,334.55 863.88,334.31 866.04,334.03 868.2,333.7 870.35,333.28 872.5,332.77 874.65,332.25 876.8,331.75 878.95,331.35 881.1,331.1 883.63,330.96 886.17,330.95 888.7,331.1 890.7,331.38 892.7,331.8 894.7,332.34 896.7,332.96 898.7,333.63 900.7,334.32 902.7,335 904.86,335.73 907.01,336.49 909.17,337.29 911.33,338.12 913.49,338.98 915.64,339.87 917.8,340.8 919.82,341.71 921.85,342.67 923.88,343.67 925.9,344.69 927.92,345.72 929.95,346.76 931.98,347.79 934,348.8" fill="none" stroke="#f0d84e" stroke-width="1.3" stroke-linejoin="round"/>
<polyline points="14,401.6 18.5,403.8 26.5,386.7 33.5,382.4 41.5,395.8 48.5,385 56.5,381.8 63.5,386.7 71.5,393 78.5,387.8 86.5,388.3 93.5,386.5 101.5,371.6 108.5,373.6 116.5,358.5 123.5,358.7 131.5,361.7 138.5,358.7 146.5,359.6 153.5,380.7 161.5,386.5 168.5,380.3 176.5,385.7 183.5,373.6 191.5,376 198.5,380.7 206.5,384.6 213.5,396.9 221.5,399 228.5,405.9 236.5,404.4 243.5,402.3 251.5,402.7 258.5,390.4 266.5,379.2 273.5,388.3 281.5,383.3 288.5,382.9 296.5,383.3 303.5,389.3 311.5,387.6 318.5,392.6 326.5,400.1 333.5,420 341.5,424.9 348.5,411.3 356.5,406.6 363.5,402.7 371.5,403.3 378.5,399 386.5,392.1 393.5,386.5 401.5,388.7 408.5,381.1 416.5,378.1 423.5,393 431.5,387.6 438.5,346.9 446.5,348.4 453.5,341.5 461.5,331.8 468.5,330 476.5,328.3 483.5,338.7 491.5,349.9 498.5,351.6 506.5,353.3 513.5,348.4 521.5,332.6 528.5,340.4 536.5,369.9 543.5,373.8 551.5,372.7 558.5,384.4 566.5,393 573.5,380.7 581.5,386.7 588.5,376.8 596.5,368.8 603.5,369.5 611.5,379.6 618.5,341.5 626.5,335 633.5,339.3 641.5,349.9 648.5,369.9 656.5,368.4 663.5,373.6 671.5,376 678.5,370.6 686.5,350.5 693.5,365 701.5,368.8 708.5,368.4 716.5,374.2 723.5,361.3 731.5,363.9 738.5,352.2 746.5,353.8 753.5,348.4 761.5,345.8 768.5,353.1 776.5,355.3 783.5,345.8 791.5,342.3 798.5,335.4 806.5,333.7 813.5,332.2 821.5,319.3 828.5,317.7 836.5,316.4 843.5,320.8 851.5,338.2 858.5,333.3 866.5,338.2 873.5,334.3 881.5,332.8 888.5,345.8 896.5,366.7 903.5,364.5 911.5,373.8 918.5,369.3 926.5,374.2 933.5,375.3" fill="none" stroke="#7e57c2" stroke-width="1.3" stroke-linejoin="round"/>
</g>
<g clip-path="url(#c3)">
<path d="M83,491H89V493H83ZM90,490H97V493H90ZM98,486H104V493H98ZM105,483H112V493H105ZM113,478H119V493H113ZM120,475H127V493H120ZM128,475H134V493H128ZM135,474H142V493H135ZM180,489H187V493H180ZM278,491H284V493H278ZM285,489H292V493H285ZM293,488H299V493H293ZM308,488H314V493H308ZM390,489H397V493H390ZM398,488H404V493H398ZM405,485H412V493H405ZM413,483H419V493H413ZM435,479H442V493H435ZM443,476H449V493H443ZM450,473H457V493H450ZM458,469H464V493H458ZM465,468H472V493H465ZM473,468H479V493H473ZM518,481H524V493H518ZM615,490H622V493H615ZM623,483H629V493H623ZM630,480H637V493H630ZM735,490H742V493H735ZM743,488H749V493H743ZM750,486H757V493H750ZM758,484H764V493H758ZM780,485H787V493H780ZM788,484H794V493H788ZM795,482H802V493H795ZM803,481H809V493H803ZM810,481H817V493H810ZM818,478H824V493H818ZM825,477H832V493H825ZM833,476H839V493H833Z" fill="#26a69a"/>
<path d="M143,474H149V493H143ZM150,480H157V493H150ZM158,485H164V493H158ZM165,487H172V493H165ZM173,490H179V493H173ZM188,490H194V493H188ZM195,491H202V493H195ZM300,488H307V493H300ZM315,489H322V493H315ZM323,490H329V493H323ZM420,485H427V493H420ZM428,485H434V493H428ZM480,470H487V493H480ZM488,474H494V493H488ZM495,477H502V493H495ZM503,480H509V493H503ZM510,483H517V493H510ZM525,482H532V493H525ZM533,488H539V493H533ZM638,480H644V493H638ZM645,486H652V493H645ZM653,490H659V493H653ZM765,485H772V493H765ZM773,486H779V493H773ZM840,478H847V493H840ZM848,482H854V493H848ZM855,484H862V493H855ZM863,487H869V493H863ZM870,488H877V493H870ZM878,489H884V493H878Z" fill="#b2dfdb"/>
<path d="M8,492H14V506H8ZM15,492H22V509H15ZM38,492H44V500H38ZM68,492H74V495H68ZM203,492H209V494H203ZM210,492H217V497H210ZM218,492H224V500H218ZM225,492H232V503H225ZM233,492H239V504H233ZM330,492H337V498H330ZM338,492H344V503H338ZM345,492H352V505H345ZM540,492H547V494H540ZM548,492H554V497H548ZM555,492H562V501H555ZM563,492H569V505H563ZM570,492H577V505H570ZM578,492H584V506H578ZM608,492H614V499H608ZM660,492H667V495H660ZM668,492H674V496H668ZM675,492H682V498H675ZM690,492H697V494H690ZM698,492H704V495H698ZM705,492H712V496H705ZM713,492H719V497H713ZM885,492H892V493H885ZM893,492H899V498H893ZM900,492H907V501H900ZM908,492H914V505H908ZM915,492H922V506H915ZM923,492H929V507H923ZM930,492H937V507H930Z" fill="#ff5252"/>
<path d="M23,492H29V503H23ZM30,492H37V499H30ZM45,492H52V498H45ZM53,492H59V494H53ZM60,492H67V494H60ZM75,492H82V494H75ZM240,492H247V503H240ZM248,492H254V502H248ZM255,492H262V499H255ZM263,492H269V495H263ZM270,492H277V493H270ZM353,492H359V504H353ZM360,492H367V501H360ZM368,492H374V499H368ZM375,492H382V496H375ZM383,492H389V494H383ZM585,492H592V505H585ZM593,492H599V501H593ZM600,492H607V499H600ZM683,492H689V493H683ZM720,492H727V494H720ZM728,492H734V494H728Z" fill="#ffcdd2"/>
<polyline points="12.5,557.5 18.2,561 26.2,559.3 33.1,556 40.6,559.3 48.2,557.8 55.7,555 63.3,554.1 70.8,555.6 78.4,555 85.9,553.4 93,551.3 100.6,545.5 108.1,541.2 115.7,532.5 123.2,525.4 130.8,520.5 138.3,515.3 145.4,511.8 153,514.2 160.5,517.4 168.1,518.9 175.6,521.1 183.2,519.6 190.7,519.4 198.3,520 205.8,521.7 212.9,527.1 220.5,531.4 228,536.8 235.6,540.5 243.3,542.4 250.4,543.7 258.3,542.2 265.4,538.3 272.8,537.3 280.5,535.1 288.5,532.5 295.6,530.4 303.2,529.7 310.5,528.6 318.1,528.4 325.6,530.2 333.2,539.4 340.3,547 347.8,550.6 355.8,552.4 363.3,552.4 370.5,551.7 378,549.8 385.6,546.3 393.1,542.7 400.6,539.9 408.2,535.8 415.7,531.9 423.3,531.9 430.4,530.2 438,521.1 445.5,513.5 453,505.6 460.6,496.3 468.1,488.8 475.4,482.9 482.9,479.7 490.5,479.5 498,479.5 505.6,480.1 513.1,479.5 520.7,475.8 527.8,474.3 535.8,480.1 543.3,484.9 550.4,488.8 558,495.2 565.5,501.3 573.1,504.9 580.6,509.7 588.2,510.7 595.7,509.9 603,508.8 610.6,510.7 618.1,499.5 625.7,490.3 633.2,485.5 640.4,484 648.3,488.8 655.9,492 663.4,496.3 670.5,499.5 678.1,501.3 685.6,497.4 693.2,498 700.7,499.5 708.2,501 715.5,503.4 723.1,502.1 730.6,501.3 738.2,497.4 745.7,494.1 753.3,490.3 760.8,487 768.4,486.2 775.5,485.9 783,482.9 790.6,480.1 798.1,475.8 805.7,472.1 813.2,469.3 820.8,462.9 828.3,457.5 835.4,453.2 843,451.4 850.5,452.7 858.1,453.2 865.6,454.7 873.2,455.3 880.7,456 888.2,458.6 895.8,465.5 902.9,470.9 910.5,476.9 918,481.2 925.6,485.5 934,489.7" fill="none" stroke="#2962ff" stroke-width="1.3" stroke-linejoin="round"/>
<polyline points="12.5,542.4 14.58,543.34 16.66,544.31 18.74,545.27 20.82,546.18 22.9,547 25.06,547.75 27.21,548.41 29.37,549 31.53,549.53 33.69,550.01 35.84,550.47 38,550.9 40.16,551.3 42.31,551.66 44.47,551.98 46.63,552.27 48.79,552.53 50.94,552.77 53.1,553 55.26,553.21 57.42,553.4 59.58,553.56 61.74,553.71 63.9,553.83 66.06,553.93 68.22,554 70.38,554.06 72.54,554.09 74.7,554.1 76.85,554.1 79,554.1 81.15,554.08 83.3,554.03 85.45,553.95 87.6,553.83 89.75,553.65 91.9,553.4 94.06,553.11 96.21,552.79 98.37,552.42 100.53,552 102.69,551.5 104.84,550.9 107,550.2 109.16,549.37 111.31,548.41 113.47,547.36 115.63,546.24 117.79,545.07 119.94,543.88 122.1,542.7 124.27,541.49 126.43,540.23 128.6,538.94 130.77,537.64 132.93,536.35 135.1,535.1 137.25,533.85 139.4,532.57 141.55,531.31 143.7,530.1 145.85,528.98 148,528 150.15,527.16 152.3,526.43 154.45,525.8 156.6,525.24 158.75,524.75 160.9,524.3 163.06,523.92 165.21,523.63 167.37,523.42 169.53,523.25 171.69,523.1 173.84,522.96 176,522.8 178.16,522.62 180.32,522.46 182.49,522.3 184.65,522.15 186.81,522.01 188.98,521.89 191.14,521.79 193.3,521.7 195.45,521.61 197.6,521.5 199.75,521.41 201.9,521.36 204.05,521.38 206.2,521.5 208.37,521.73 210.53,522.04 212.7,522.42 214.87,522.86 217.03,523.36 219.2,523.9 221.36,524.5 223.51,525.19 225.67,525.94 227.83,526.72 229.99,527.52 232.14,528.32 234.3,529.1 236.48,529.88 238.65,530.68 240.82,531.46 243,532.2 245.47,533.01 247.95,533.79 250.43,534.5 252.9,535.1 255.06,535.52 257.21,535.85 259.37,536.11 261.53,536.3 263.69,536.44 265.84,536.54 268,536.6 270.16,536.61 272.31,536.57 274.47,536.47 276.63,536.33 278.79,536.16 280.94,535.98 283.1,535.8 285.26,535.6 287.41,535.37 289.57,535.12 291.72,534.85 293.88,534.56 296.03,534.27 298.19,533.98 300.34,533.68 302.5,533.4 304.66,533.1 306.81,532.78 308.97,532.44 311.13,532.12 313.29,531.82 315.44,531.58 317.6,531.4 319.78,531.25 321.95,531.13 324.12,531.09 326.3,531.2 328.45,531.48 330.6,531.89 332.75,532.41 334.9,533 337.05,533.72 339.2,534.58 341.35,535.52 343.5,536.5 345.65,537.44 347.8,538.3 349.96,539.08 352.11,539.84 354.27,540.57 356.43,541.26 358.59,541.92 360.74,542.53 362.9,543.1 365.06,543.63 367.21,544.12 369.37,544.58 371.53,544.99 373.69,545.35 375.84,545.65 378,545.9 380.16,546.09 382.32,546.23 384.48,546.31 386.64,546.34 388.8,546.3 390.95,546.2 393.1,546.03 395.25,545.81 397.4,545.53 399.55,545.19 401.7,544.8 403.86,544.32 406.01,543.75 408.17,543.12 410.33,542.44 412.49,541.76 414.64,541.11 416.8,540.5 418.97,539.97 421.13,539.51 423.3,539.05 425.47,538.56 427.63,538 429.8,537.3 431.94,536.49 434.08,535.61 436.22,534.64 438.36,533.6 440.5,532.5 442.67,531.3 444.83,530.02 447,528.66 449.17,527.25 451.33,525.79 453.5,524.3 455.65,522.78 457.8,521.21 459.95,519.6 462.1,517.95 464.25,516.28 466.4,514.6 468.46,512.94 470.51,511.2 472.57,509.43 474.63,507.67 476.69,505.95 478.74,504.31 480.8,502.8 482.95,501.34 485.1,499.97 487.25,498.67 489.4,497.45 491.55,496.29 493.7,495.2 495.86,494.19 498.01,493.28 500.17,492.44 502.33,491.65 504.49,490.9 506.64,490.16 508.8,489.4 510.96,488.62 513.11,487.82 515.27,487.04 517.43,486.29 519.59,485.58 521.74,484.95 523.9,484.4 526.06,483.92 528.22,483.49 530.38,483.13 532.54,482.86 534.7,482.7 536.86,482.66 539.02,482.74 541.18,482.9 543.34,483.13 545.5,483.4 547.66,483.7 549.82,484.05 551.98,484.46 554.14,484.94 556.3,485.5 558.44,486.15 560.58,486.89 562.72,487.69 564.86,488.54 567,489.4 569.16,490.31 571.31,491.3 573.47,492.32 575.63,493.36 577.79,494.39 579.94,495.38 582.1,496.3 584.26,497.17 586.41,498.03 588.57,498.85 590.73,499.64 592.89,500.39 595.04,501.08 597.2,501.7 599.37,502.3 601.53,502.89 603.7,503.42 605.87,503.86 608.03,504.17 610.2,504.3 612.34,504.25 614.48,504.04 616.62,503.72 618.76,503.29 620.9,502.8 623.07,502.17 625.23,501.38 627.4,500.51 629.57,499.6 631.73,498.75 633.9,498 636.05,497.35 638.2,496.74 640.35,496.17 642.5,495.66 644.65,495.2 646.8,494.8 648.96,494.45 651.12,494.15 653.28,493.92 655.44,493.76 657.6,493.7 659.75,493.78 661.9,493.99 664.05,494.29 666.2,494.62 668.35,494.94 670.5,495.2 672.66,495.39 674.81,495.56 676.97,495.71 679.13,495.85 681.29,495.99 683.44,496.14 685.6,496.3 687.77,496.47 689.93,496.63 692.1,496.79 694.27,496.97 696.43,497.17 698.6,497.4 700.64,497.66 702.69,497.96 704.73,498.29 706.77,498.62 708.81,498.95 710.86,499.25 712.9,499.5 715.06,499.75 717.21,499.99 719.37,500.22 721.53,500.41 723.69,500.55 725.84,500.62 728,500.6 730.16,500.48 732.31,500.28 734.47,500.01 736.63,499.68 738.79,499.31 740.94,498.91 743.1,498.5 745.26,498.04 747.42,497.52 749.59,496.95 751.75,496.36 753.91,495.76 756.08,495.17 758.24,494.61 760.4,494.1 762.55,493.65 764.7,493.23 766.85,492.84 769,492.46 771.15,492.08 773.3,491.71 775.45,491.31 777.6,490.9 779.76,490.48 781.91,490.08 784.07,489.67 786.23,489.24 788.39,488.79 790.54,488.28 792.7,487.7 794.86,487.06 797.01,486.36 799.17,485.62 801.33,484.83 803.49,484.02 805.64,483.17 807.8,482.3 809.96,481.39 812.11,480.44 814.27,479.46 816.43,478.45 818.59,477.43 820.74,476.41 822.9,475.4 825.06,474.38 827.21,473.34 829.37,472.29 831.53,471.24 833.69,470.22 835.84,469.23 838,468.3 840.15,467.42 842.3,466.56 844.45,465.74 846.6,464.95 848.75,464.2 850.9,463.5 853.07,462.83 855.23,462.19 857.4,461.59 859.57,461.04 861.73,460.54 863.9,460.1 866.05,459.73 868.2,459.43 870.35,459.17 872.5,458.96 874.65,458.77 876.8,458.6 878.96,458.42 881.12,458.23 883.28,458.09 885.44,458.03 887.6,458.1 889.76,458.31 891.92,458.63 894.08,459.04 896.24,459.54 898.4,460.1 900.55,460.75 902.7,461.49 904.85,462.31 907,463.18 909.15,464.09 911.3,465 913.47,465.95 915.63,466.96 917.8,467.99 919.97,469.04 922.13,470.08 924.3,471.1 926.72,472.21 929.15,473.31 931.58,474.4 934,475.5" fill="none" stroke="#ff6d00" stroke-width="1.3" stroke-linejoin="round"/>
</g>
<path d="M1013.5,35V607 M14,302.5H1099 M14,437.5H1099 M14,573.5H1099" stroke="#dddee2" stroke-width="1" fill="none"/>
<text x="22.8" y="59" font-size="15" fill="#131722" textLength="45.9" lengthAdjust="spacingAndGlyphs" >Bitcoin</text>
<text x="74.8" y="59" font-size="15" fill="#131722" textLength="6.2" lengthAdjust="spacingAndGlyphs" >/</text>
<text x="86.8" y="59" font-size="15" fill="#131722" textLength="64.7" lengthAdjust="spacingAndGlyphs" >TetherUS,</text>
<text x="156.9" y="59" font-size="15" fill="#131722" textLength="23.1" lengthAdjust="spacingAndGlyphs" >1D,</text>
<text x="183.8" y="59" font-size="15" fill="#131722" textLength="57.7" lengthAdjust="spacingAndGlyphs" >BINANCE</text>
<text x="249.8" y="59" font-size="15" fill="#131722" textLength="11.3" lengthAdjust="spacingAndGlyphs" >O</text>
<text x="262.2" y="59" font-size="15" fill="#ef5350" textLength="58.8" lengthAdjust="spacingAndGlyphs" >42158.85</text>
<text x="330.4" y="59" font-size="15" fill="#131722" textLength="9.4" lengthAdjust="spacingAndGlyphs" >H</text>
<text x="340.7" y="59" font-size="15" fill="#ef5350" textLength="58.4" lengthAdjust="spacingAndGlyphs" >42414.71</text>
<text x="409.9" y="59" font-size="15" fill="#131722" textLength="7.5" lengthAdjust="spacingAndGlyphs" >L</text>
<text x="417.4" y="59" font-size="15" fill="#ef5350" textLength="60.1" lengthAdjust="spacingAndGlyphs" >41755.00</text>
<text x="486.7" y="59" font-size="15" fill="#131722" textLength="8.9" lengthAdjust="spacingAndGlyphs" >C</text>
<text x="495.6" y="59" font-size="15" fill="#ef5350" textLength="60.1" lengthAdjust="spacingAndGlyphs" >42041.61</text>
<text x="565.7" y="59" font-size="15" fill="#ef5350" textLength="52" lengthAdjust="spacingAndGlyphs" >−117.24</text>
<text x="622.8" y="59" font-size="15" fill="#ef5350" textLength="56.3" lengthAdjust="spacingAndGlyphs" >(−0.28%)</text>
<text x="22.8" y="80" font-size="15" fill="#131722" textLength="20.4" lengthAdjust="spacingAndGlyphs" >Vol</text>
<text x="51.3" y="80" font-size="15" fill="#ef5350" textLength="47.5" lengthAdjust="spacingAndGlyphs" >6.431K</text>
<text x="22.6" y="101" font-size="15" fill="#131722" textLength="17.3" lengthAdjust="spacingAndGlyphs" >BB</text>
<text x="44.8" y="101" font-size="15" fill="#131722" textLength="26.4" lengthAdjust="spacingAndGlyphs" >(20,</text>
<text x="75.6" y="101" font-size="15" fill="#131722" textLength="39.1" lengthAdjust="spacingAndGlyphs" >close,</text>
<text x="119.9" y="101" font-size="15" fill="#131722" textLength="13.1" lengthAdjust="spacingAndGlyphs" >2,</text>
<text x="137.5" y="101" font-size="15" fill="#131722" textLength="13.4" lengthAdjust="spacingAndGlyphs" >0)</text>
<text x="159.6" y="101" font-size="15" fill="#ff6d00" textLength="61.5" lengthAdjust="spacingAndGlyphs" >44803.14</text>
<text x="229.2" y="101" font-size="15" fill="#2962ff" textLength="61.4" lengthAdjust="spacingAndGlyphs" >48435.34</text>
<text x="298.7" y="101" font-size="15" fill="#2962ff" textLength="62.1" lengthAdjust="spacingAndGlyphs" >41170.94</text>
<text x="22.6" y="328" font-size="15" fill="#131722" textLength="20.4" lengthAdjust="spacingAndGlyphs" >RSI</text>
<text x="47.9" y="328" font-size="15" fill="#131722" textLength="26.2" lengthAdjust="spacingAndGlyphs" >(14,</text>
<text x="78.1" y="328" font-size="15" fill="#131722" textLength="39.5" lengthAdjust="spacingAndGlyphs" >close,</text>
<text x="122.2" y="328" font-size="15" fill="#131722" textLength="30.9" lengthAdjust="spacingAndGlyphs" >SMA,</text>
<text x="160.9" y="328" font-size="15" fill="#131722" textLength="19.5" lengthAdjust="spacingAndGlyphs" >14,</text>
<text x="185.3" y="328" font-size="15" fill="#131722" textLength="13.9" lengthAdjust="spacingAndGlyphs" >2)</text>
<text x="207.5" y="328" font-size="15" fill="#7e57c2" textLength="38.5" lengthAdjust="spacingAndGlyphs" >43.14</text>
<text x="253.4" y="328" font-size="15" fill="#ffeb3b" textLength="38.8" lengthAdjust="spacingAndGlyphs" >55.20</text>
<text x="298.7" y="328" font-size="15" fill="#131722" textLength="24.9" lengthAdjust="spacingAndGlyphs" >n/a</text>
<text x="332.7" y="328" font-size="15" fill="#131722" textLength="24.9" lengthAdjust="spacingAndGlyphs" >n/a</text>
<text x="22.4" y="463" font-size="15" fill="#131722" textLength="38.2" lengthAdjust="spacingAndGlyphs" >MACD</text>
<text x="65.8" y="463" font-size="15" fill="#131722" textLength="25.8" lengthAdjust="spacingAndGlyphs" >(12,</text>
<text x="96.1" y="463" font-size="15" fill="#131722" textLength="20.7" lengthAdjust="spacingAndGlyphs" >26,</text>
<text x="121.5" y="463" font-size="15" fill="#131722" textLength="38.6" lengthAdjust="spacingAndGlyphs" >close,</text>
<text x="166.4" y="463" font-size="15" fill="#131722" textLength="12.6" lengthAdjust="spacingAndGlyphs" >9,</text>
<text x="184.1" y="463" font-size="15" fill="#131722" textLength="32.2" lengthAdjust="spacingAndGlyphs" >EMA,</text>
<text x="221.4" y="463" font-size="15" fill="#131722" textLength="33.5" lengthAdjust="spacingAndGlyphs" >EMA)</text>
<text x="263.9" y="463" font-size="15" fill="#ff5252" textLength="52.9" lengthAdjust="spacingAndGlyphs" >−628.44</text>
<text x="325.4" y="463" font-size="15" fill="#2962ff" textLength="36.7" lengthAdjust="spacingAndGlyphs" >96.42</text>
<text x="370.7" y="463" font-size="15" fill="#ff6d00" textLength="46.1" lengthAdjust="spacingAndGlyphs" >724.86</text>
<text x="12.9" y="25" font-size="15" fill="#131722" textLength="64" lengthAdjust="spacingAndGlyphs" >Published</text>
<text x="81.3" y="25" font-size="15" fill="#131722" textLength="17" lengthAdjust="spacingAndGlyphs" >on</text>
<text x="102.1" y="25" font-size="15" fill="#131722" textLength="118.4" lengthAdjust="spacingAndGlyphs" >TradingView.com,</text>
<text x="225.2" y="25" font-size="15" fill="#131722" textLength="25.1" lengthAdjust="spacingAndGlyphs" >Apr</text>
<text x="253.8" y="25" font-size="15" fill="#131722" textLength="20.1" lengthAdjust="spacingAndGlyphs" >11,</text>
<text x="279.1" y="25" font-size="15" fill="#131722" textLength="30.6" lengthAdjust="spacingAndGlyphs" >2022</text>
<text x="315" y="25" font-size="15" fill="#131722" textLength="36.4" lengthAdjust="spacingAndGlyphs" >02:29</text>
<text x="356.6" y="25" font-size="15" fill="#131722" textLength="26.9" lengthAdjust="spacingAndGlyphs" >UTC</text>
<path d="M12.9,624.3H23.2V635.6H17.6V628.7H12.9Z M30.9,624.3H37.1L32.1,635.6H25.9Z" fill="#131722"/><circle cx="26.0" cy="626.0" r="1.65" fill="#131722"/>
<text x="42.2" y="636" font-size="15.3" fill="#131722" textLength="86.7" lengthAdjust="spacingAndGlyphs" >TradingView</text>
<text x="48.65" y="596" font-size="15" fill="#131722" textLength="14.7" lengthAdjust="spacingAndGlyphs" >15</text>
<text x="166.6" y="596" font-size="15" fill="#131722" textLength="33.6" lengthAdjust="spacingAndGlyphs" font-weight="bold" >2022</text>
<text x="296.2" y="596" font-size="15" fill="#131722" textLength="14.2" lengthAdjust="spacingAndGlyphs" >17</text>
<text x="402.85" y="596" font-size="15" fill="#131722" textLength="25.9" lengthAdjust="spacingAndGlyphs" >Feb</text>
<text x="514.2" y="596" font-size="15" fill="#131722" textLength="14.2" lengthAdjust="spacingAndGlyphs" >15</text>
<text x="613.1" y="596" font-size="15" fill="#131722" textLength="24.6" lengthAdjust="spacingAndGlyphs" >Mar</text>
<text x="723.75" y="596" font-size="15" fill="#131722" textLength="14.3" lengthAdjust="spacingAndGlyphs" >15</text>
<text x="846.05" y="596" font-size="15" fill="#131722" textLength="23.9" lengthAdjust="spacingAndGlyphs" >Apr</text>
<text x="978.6" y="596" font-size="15" fill="#131722" textLength="14.2" lengthAdjust="spacingAndGlyphs" >18</text>
<g clip-path="url(#a1)">
<text x="1026.1" y="44" font-size="15" fill="#131722" textLength="62" lengthAdjust="spacingAndGlyphs" >65000.00</text>
<text x="1026.1" y="82" font-size="15" fill="#131722" textLength="62" lengthAdjust="spacingAndGlyphs" >60000.00</text>
<text x="1026.1" y="119" font-size="15" fill="#131722" textLength="62" lengthAdjust="spacingAndGlyphs" >55000.00</text>
<text x="1026.1" y="157" font-size="15" fill="#131722" textLength="62" lengthAdjust="spacingAndGlyphs" >50000.00</text>
<text x="1026.1" y="269" font-size="15" fill="#131722" textLength="62" lengthAdjust="spacingAndGlyphs" >35000.00</text>
</g>
<text x="1026.1" y="344" font-size="15" fill="#131722" textLength="38.3" lengthAdjust="spacingAndGlyphs" >60.00</text>
<text x="1026.1" y="388" font-size="15" fill="#131722" textLength="38.3" lengthAdjust="spacingAndGlyphs" >40.00</text>
<text x="1026.1" y="431" font-size="15" fill="#131722" textLength="38.3" lengthAdjust="spacingAndGlyphs" >20.00</text>
<text x="1026.1" y="452" font-size="15" fill="#131722" textLength="54.1" lengthAdjust="spacingAndGlyphs" >2000.00</text>
<text x="1026.1" y="543" font-size="15" fill="#131722" textLength="62" lengthAdjust="spacingAndGlyphs" >−2000.00</text>
<path d="M1013,153H1092.8Q1095,153 1095,155.2V171.8Q1095,174 1092.8,174H1013Z" fill="#2962ff"/>
<text x="1026.1" y="169" font-size="15" fill="#fff" textLength="62" lengthAdjust="spacingAndGlyphs" >48435.34</text>
<path d="M1013,180H1092.8Q1095,180 1095,182.2V198.8Q1095,201 1092.8,201H1013Z" fill="#ff6d00"/>
<text x="1026.1" y="196" font-size="15" fill="#fff" textLength="62" lengthAdjust="spacingAndGlyphs" >44803.14</text>
<path d="M1013,201H1092.8Q1095,201 1095,203.2V219.8Q1095,222 1092.8,222H1013Z" fill="#ef5350"/>
<text x="1026.1" y="217" font-size="15" fill="#fff" textLength="62" lengthAdjust="spacingAndGlyphs" >42041.61</text>
<path d="M1013,222H1092.8Q1095,222 1095,224.2V240.8Q1095,243 1092.8,243H1013Z" fill="#2962ff"/>
<text x="1026.1" y="238" font-size="15" fill="#fff" textLength="62" lengthAdjust="spacingAndGlyphs" >41170.94</text>
<g clip-path="url(#a1)">
<path d="M1013,287H1077.3Q1079.5,287 1079.5,289.2V305.8Q1079.5,308 1077.3,308H1013Z" fill="#ef5350"/>
<text x="1026.1" y="303" font-size="15" fill="#fff" textLength="46.9" lengthAdjust="spacingAndGlyphs" >6.431K</text>
</g>
<path d="M1013,339H1069.3Q1071.5,339 1071.5,341.2V357.8Q1071.5,360 1069.3,360H1013Z" fill="#ffeb3b"/>
<text x="1026.1" y="355" font-size="15" fill="#131722" textLength="38.3" lengthAdjust="spacingAndGlyphs" >55.20</text>
<path d="M1013,365H1069.3Q1071.5,365 1071.5,367.2V383.8Q1071.5,386 1069.3,386H1013Z" fill="#7e57c2"/>
<text x="1026.1" y="381" font-size="15" fill="#fff" textLength="38.3" lengthAdjust="spacingAndGlyphs" >43.14</text>
<path d="M1013,454H1076.3Q1078.5,454 1078.5,456.2V472.8Q1078.5,475 1076.3,475H1013Z" fill="#ff6d00"/>
<text x="1026.1" y="470" font-size="15" fill="#fff" textLength="46.2" lengthAdjust="spacingAndGlyphs" >724.86</text>
<path d="M1013,475H1069.3Q1071.5,475 1071.5,477.2V493.8Q1071.5,496 1069.3,496H1013Z" fill="#2962ff"/>
<text x="1026.1" y="491" font-size="15" fill="#fff" textLength="38.3" lengthAdjust="spacingAndGlyphs" >96.42</text>
<path d="M1013,496H1085.3Q1087.5,496 1087.5,498.2V514.8Q1087.5,517 1085.3,517H1013Z" fill="#ff5252"/>
<text x="1026.1" y="512" font-size="15" fill="#fff" textLength="54.1" lengthAdjust="spacingAndGlyphs" >−628.44</text>
</svg>
</body></html>
